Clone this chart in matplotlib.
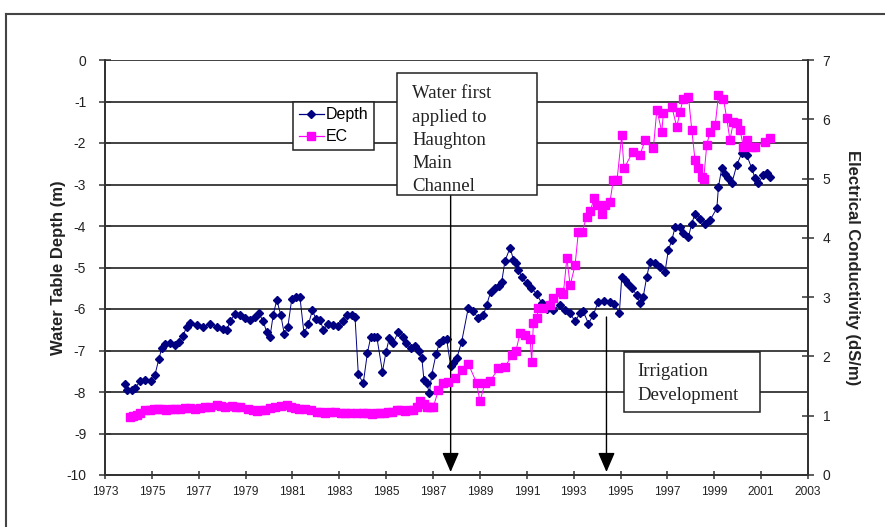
import matplotlib
matplotlib.use("Agg")
import matplotlib.pyplot as plt
from matplotlib.patches import Rectangle
from matplotlib.lines import Line2D

plt.rcParams['font.family'] = ['Liberation Sans', 'DejaVu Sans']

# ---------------- data ----------------
depth_year = [1973.85, 1973.95, 1974.14, 1974.30, 1974.49, 1974.70, 1974.96, 1975.13, 1975.30, 1975.42,
              1975.56, 1975.77, 1975.99, 1976.16, 1976.32, 1976.49, 1976.63, 1976.91, 1977.18, 1977.48,
              1977.77, 1978.04, 1978.20, 1978.33, 1978.55, 1978.75, 1978.98, 1979.19, 1979.40, 1979.57,
              1979.75, 1979.90, 1980.04, 1980.18, 1980.33, 1980.50, 1980.65, 1980.80, 1980.97, 1981.15,
              1981.32, 1981.49, 1981.68, 1981.85, 1982.00, 1982.18, 1982.32, 1982.50, 1982.74, 1982.96,
              1983.17, 1983.32, 1983.53, 1983.67, 1983.81, 1984.02, 1984.20, 1984.34, 1984.47, 1984.60,
              1984.84, 1984.99, 1985.13, 1985.30, 1985.52, 1985.71, 1985.85, 1986.05, 1986.23, 1986.40,
              1986.52, 1986.61, 1986.73, 1986.84, 1986.94, 1987.13, 1987.27, 1987.44, 1987.58, 1987.75,
              1987.87, 1988.01, 1988.22, 1988.50, 1988.72, 1988.93, 1989.15, 1989.29, 1989.46, 1989.65,
              1989.80, 1989.93, 1990.07, 1990.29, 1990.43, 1990.55, 1990.64, 1990.78, 1991.00, 1991.20,
              1991.42, 1991.64, 1991.85, 1992.13, 1992.42, 1992.63, 1992.85, 1993.06, 1993.27, 1993.41,
              1993.63, 1993.84, 1994.05, 1994.30, 1994.55, 1994.72, 1994.95, 1995.05, 1995.19, 1995.33,
              1995.49, 1995.69, 1995.83, 1995.97, 1996.12, 1996.26, 1996.47, 1996.69, 1996.90, 1997.04,
              1997.19, 1997.33, 1997.54, 1997.68, 1997.90, 1998.04, 1998.18, 1998.39, 1998.61, 1998.82,
              1999.11, 1999.18, 1999.32, 1999.46, 1999.60, 1999.75, 1999.96, 2000.17, 2000.39, 2000.60,
              2000.74, 2000.88, 2001.10, 2001.24, 2001.38]
depth_m = [-7.81, -7.95, -7.94, -7.90, -7.74, -7.72, -7.74, -7.59, -7.20, -6.95,
           -6.84, -6.82, -6.87, -6.80, -6.65, -6.43, -6.34, -6.39, -6.43, -6.36,
           -6.43, -6.48, -6.50, -6.30, -6.12, -6.15, -6.22, -6.27, -6.20, -6.10,
           -6.30, -6.55, -6.67, -6.14, -5.78, -6.14, -6.60, -6.44, -5.76, -5.72,
           -5.72, -6.58, -6.37, -6.03, -6.24, -6.27, -6.50, -6.37, -6.38, -6.42,
           -6.28, -6.14, -6.14, -6.20, -7.57, -7.79, -7.05, -6.68, -6.68, -6.68,
           -7.51, -7.04, -6.71, -6.81, -6.55, -6.67, -6.83, -6.95, -6.90, -7.00,
           -7.17, -7.71, -7.79, -8.03, -7.59, -7.08, -6.83, -6.75, -6.73, -7.37,
           -7.31, -7.19, -6.79, -5.98, -6.06, -6.22, -6.14, -5.90, -5.58, -5.50,
           -5.45, -5.34, -4.84, -4.52, -4.82, -4.90, -5.05, -5.22, -5.38, -5.50,
           -5.64, -5.86, -6.00, -6.02, -5.90, -6.02, -6.10, -6.30, -6.10, -6.06,
           -6.35, -6.14, -5.82, -5.80, -5.84, -5.88, -6.10, -5.24, -5.30, -5.40,
           -5.50, -5.66, -5.86, -5.70, -5.22, -4.86, -4.90, -4.98, -5.10, -4.58,
           -4.34, -4.02, -4.02, -4.18, -4.26, -3.94, -3.70, -3.82, -3.94, -3.86,
           -3.57, -3.05, -2.61, -2.75, -2.85, -2.97, -2.53, -2.25, -2.30, -2.61,
           -2.85, -2.97, -2.77, -2.73, -2.81]

ec_year = [1974.07, 1974.20, 1974.35, 1974.49, 1974.71, 1974.92, 1975.10, 1975.26, 1975.45, 1975.60,
           1975.80, 1975.99, 1976.20, 1976.41, 1976.62, 1976.84, 1977.05, 1977.27, 1977.50, 1977.77,
           1977.95, 1978.12, 1978.42, 1978.60, 1978.76, 1979.10, 1979.30, 1979.47, 1979.65, 1979.83,
           1980.05, 1980.26, 1980.50, 1980.75, 1980.95, 1981.11, 1981.30, 1981.54, 1981.80, 1982.04,
           1982.20, 1982.39, 1982.60, 1982.82, 1983.05, 1983.24, 1983.46, 1983.75, 1984.01, 1984.20,
           1984.40, 1984.55, 1984.74, 1984.90, 1985.08, 1985.25, 1985.45, 1985.60, 1985.80, 1985.97,
           1986.15, 1986.30, 1986.44, 1986.60, 1986.73, 1986.87, 1987.01, 1987.23, 1987.44, 1987.64,
           1987.94, 1988.22, 1988.50, 1988.86, 1989.00, 1989.22, 1989.43, 1989.79, 1990.07, 1990.36,
           1990.54, 1990.71, 1990.93, 1991.14, 1991.21, 1991.28, 1991.43, 1991.49, 1991.69, 1991.99,
           1992.13, 1992.42, 1992.56, 1992.71, 1992.85, 1993.06, 1993.20, 1993.36, 1993.56, 1993.70,
           1993.88, 1994.00, 1994.20, 1994.34, 1994.55, 1994.69, 1994.85, 1995.05, 1995.15, 1995.52,
           1995.83, 1996.05, 1996.40, 1996.55, 1996.76, 1996.83, 1997.19, 1997.40, 1997.54, 1997.68,
           1997.90, 1998.04, 1998.18, 1998.32, 1998.47, 1998.55, 1998.68, 1998.82, 1999.04, 1999.18,
           1999.39, 1999.53, 1999.67, 1999.82, 1999.96, 2000.10, 2000.24, 2000.39, 2000.60, 2000.74,
           2001.17, 2001.38]
ec_dsm = [0.98, 1.00, 1.02, 1.05, 1.10, 1.10, 1.11, 1.12, 1.11, 1.10,
          1.11, 1.12, 1.12, 1.13, 1.13, 1.12, 1.13, 1.14, 1.15, 1.18,
          1.16, 1.15, 1.17, 1.15, 1.14, 1.12, 1.10, 1.08, 1.09, 1.10,
          1.13, 1.15, 1.16, 1.18, 1.15, 1.13, 1.12, 1.12, 1.09, 1.07,
          1.06, 1.05, 1.06, 1.06, 1.05, 1.05, 1.04, 1.05, 1.04, 1.04,
          1.03, 1.04, 1.05, 1.05, 1.06, 1.07, 1.10, 1.09, 1.08, 1.09,
          1.10, 1.15, 1.25, 1.20, 1.15, 1.14, 1.15, 1.43, 1.55, 1.57,
          1.63, 1.77, 1.88, 1.55, 1.24, 1.56, 1.58, 1.80, 1.82, 2.02,
          2.10, 2.39, 2.36, 2.30, 1.91, 2.56, 2.64, 2.81, 2.81, 2.87,
          2.98, 3.09, 3.06, 3.66, 3.20, 3.54, 4.10, 4.10, 4.36, 4.45,
          4.67, 4.55, 4.41, 4.55, 4.61, 4.97, 4.97, 5.73, 5.17, 5.45,
          5.40, 5.65, 5.51, 6.16, 5.79, 6.10, 6.21, 5.87, 6.13, 6.35,
          6.38, 5.82, 5.31, 5.17, 5.03, 5.00, 5.57, 5.79, 5.90, 6.41,
          6.35, 6.02, 5.65, 5.96, 5.93, 5.82, 5.54, 5.65, 5.54, 5.54,
          5.62, 5.68]

x_ticks = list(range(1973, 2004, 2))
depth_ticks = list(range(-10, 1))
ec_ticks = list(range(0, 8))

arrow_years = [1987.75, 1994.4]
note1_lines = ["Water first", "applied to", "Haughton", "Main", "Channel"]
note2_lines = ["Irrigation", "Development"]

# ---------------- layout helpers ----------------
W, H = 885, 527
fig = plt.figure(figsize=(W / 100, H / 100), dpi=100)
fig.patch.set_facecolor('white')


def fx(px):
    return px / W


def fy(py):
    return 1 - py / H


ax_l, ax_r, ax_t, ax_b = 105, 808, 60, 475
ax = fig.add_axes([fx(ax_l), fy(ax_b), fx(ax_r - ax_l), (ax_b - ax_t) / H])
ax2 = ax.twinx()

spine_c = '#333333'
navy = '#000080'
magenta = '#FF00FF'

ax.plot(depth_year, depth_m, color=navy, lw=0.7, marker='D', markersize=4.4,
        markerfacecolor=navy, markeredgecolor=navy, label='Depth', zorder=3)
ax2.plot(ec_year, ec_dsm, color=magenta, lw=0.7, marker='s', markersize=5.6,
         markerfacecolor=magenta, markeredgecolor=magenta, label='EC', zorder=3)

ax.set_xlim(1973, 2003)
ax.set_ylim(-10, 0)
ax2.set_ylim(0, 7)
ax.set_xticks(x_ticks)
ax.set_xticklabels([str(t) for t in x_ticks])
ax.set_yticks(depth_ticks)
ax.set_yticklabels([str(t) for t in depth_ticks])
ax2.set_yticks(ec_ticks)
ax2.set_yticklabels([str(t) for t in ec_ticks])

ax.yaxis.grid(True, color=spine_c, lw=1.3)
ax.set_axisbelow(True)

for a in (ax, ax2):
    for s in a.spines.values():
        s.set_color(spine_c)
        s.set_linewidth(1.3)
    a.spines['top'].set_visible(False)

ax.tick_params(axis='y', direction='inout', length=9, width=1.1, color=spine_c,
               labelsize=10, labelcolor='#222222', pad=9)
ax.tick_params(axis='x', direction='inout', length=6, width=1.1, color=spine_c,
               labelsize=8.6, labelcolor='#222222', pad=5)
ax2.tick_params(axis='y', direction='inout', length=9, width=1.1, color=spine_c,
                labelsize=10, labelcolor='#222222', pad=6)

ax.set_ylabel('Water Table Depth (m)', fontsize=12, fontweight='bold', color='#222222')
ax.yaxis.set_label_coords(-0.056, 0.5)
ax2.set_ylabel('Electrical Conductivity (dS/m)', fontsize=12, fontweight='bold',
               color='#222222', rotation=270, va='bottom')
ax2.yaxis.set_label_coords(1.052, 0.5)

# legend
handles = [Line2D([], [], color=navy, lw=0.9, marker='D', markersize=4.2, markerfacecolor=navy),
           Line2D([], [], color=magenta, lw=0.9, marker='s', markersize=5.2, markerfacecolor=magenta)]
leg = ax2.legend(handles, ['Depth', 'EC'], loc='upper left',
                 bbox_to_anchor=((293 - ax_l) / (ax_r - ax_l), (ax_b - 101.5) / (ax_b - ax_t)),
                 borderaxespad=0, frameon=True, fancybox=False, framealpha=1,
                 edgecolor='#222222', fontsize=11.5, handlelength=1.6, handletextpad=0.1,
                 borderpad=0.35, labelspacing=0.45)
leg.get_frame().set_linewidth(1.1)
leg.set_zorder(10)

# annotation boxes
def box(x0, y0, x1, y1):
    r = Rectangle((fx(x0), fy(y1)), fx(x1 - x0), (y1 - y0) / H, transform=fig.transFigure,
                  facecolor='white', edgecolor='#222222', lw=1.1, zorder=20)
    fig.add_artist(r)

box(397, 73, 537, 195)
for i, t in enumerate(note1_lines):
    fig.text(fx(412), fy(94 + 23.2 * i), t, fontsize=13.5, family=['Liberation Serif'],
             color='#222222', va='center', ha='left', zorder=21)

box(624, 352, 760, 412)
for i, t in enumerate(note2_lines):
    fig.text(fx(637), fy(372 + 23 * i), t, fontsize=13.5, family=['Liberation Serif'],
             color='#222222', va='center', ha='left', zorder=21)

# arrows
tip_depth = -(472 - ax_t) / 41.5
starts = [-(195 - ax_t) / 41.5, -(317 - ax_t) / 41.5]
for yr, st in zip(arrow_years, starts):
    ax.annotate('', xy=(yr, tip_depth), xytext=(yr, st),
                arrowprops=dict(arrowstyle='-|>,head_length=0.6,head_width=0.26',
                                color='black', lw=1.0, mutation_scale=20,
                                shrinkA=0, shrinkB=0), zorder=15, annotation_clip=False)

# outer frame
fig.add_artist(Line2D([fx(6), fx(6)], [fy(14), 0], transform=fig.transFigure,
                      color='#444444', lw=1.5))
fig.add_artist(Line2D([fx(6), 1], [fy(14), fy(14)], transform=fig.transFigure,
                      color='#444444', lw=1.5))

fig.savefig('out.png', dpi=100)
